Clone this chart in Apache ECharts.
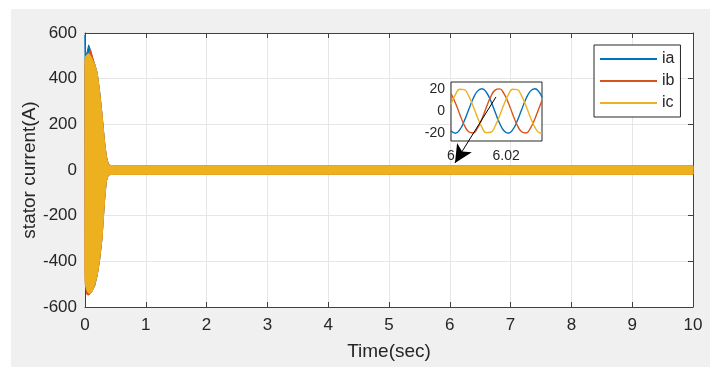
<!DOCTYPE html>
<html>
<head>
<meta charset="utf-8">
<script src="https://cdn.jsdelivr.net/npm/echarts@6/dist/echarts.min.js"></script>
<style>
html,body{margin:0;padding:0;background:#ffffff;}
#bg{position:absolute;left:11px;top:9px;width:699px;height:358px;background:#F0F0F0;}
#chart{position:absolute;left:0;top:0;width:710px;height:367px;}
</style>
</head>
<body>
<div id="bg"></div>
<div id="chart"></div>
<script>
// ---- main plot: envelope of the dense oscillation (time in s, current in A)
const envT    = [0, 0.006, 0.03, 0.06, 0.09, 0.12, 0.16, 0.2, 0.24, 0.28, 0.32, 0.35, 0.38, 0.41, 0.5, 10];
const iaUpper = [592, 515, 510, 548, 525, 492, 464, 426, 346, 243, 127, 62, 30, 20, 19, 19];
const iaLower = [210, -485, -520, -535, -532, -526, -508, -462, -395, -300, -140, -50, -25, -20, -19, -19];
const ibUpper = [440, 490, 500, 505, 528, 500, 460, 424, 343, 242, 126, 61, 29, 20, 19, 19];
const ibLower = [-440, -505, -545, -548, -540, -530, -500, -462, -394, -298, -138, -49, -24, -20, -19, -19];
const icUpper = [480, 495, 505, 510, 500, 485, 462, 425, 342, 240, 125, 60, 28, 20, 19, 19];
const icLower = [-480, -500, -525, -540, -538, -530, -502, -460, -392, -298, -138, -48, -24, -20, -19, -19];

// ---- inset (zoom around t = 6 s)
const insetT  = [6.0000, 6.0016, 6.0032, 6.0048, 6.0064, 6.0080, 6.0096, 6.0112, 6.0128, 6.0144, 6.0160,
                 6.0176, 6.0192, 6.0208, 6.0224, 6.0240, 6.0256, 6.0272, 6.0288, 6.0304, 6.0320, 6.0330];
const insetIa = [-17.8, -20, -16.8, -9.1, 1.0, 10.9, 17.8, 20, 16.8, 9.1, -1.0,
                 -10.9, -17.8, -20, -16.8, -9.1, 1.0, 10.9, 17.8, 20, 16.8, 12.3];
const insetIb = [15.5, 7.2, -3.1, -12.6, -18.7, -19.8, -15.5, -7.2, 3.1, 12.6, 18.7,
                 19.8, 15.5, 7.2, -3.1, -12.6, -18.7, -19.8, -15.5, -7.2, 3.1, 9.4];
const insetIc = [5.8, 14.6, 19.5, 19.1, 13.6, 4.5, -5.8, -14.6, -19.5, -19.1, -13.6,
                 -4.5, 5.8, 14.6, 19.5, 19.1, 13.6, 4.5, -5.8, -14.6, -19.5, -19.9];
const insetXTicks = [6, 6.02];
const insetYTicks = [-20, 0, 20];

// ---- annotation arrow (main-axis coordinates)
const arrowFrom = [6.76, 320];
const arrowTo   = [6.085, 31];

const seriesNames = ['ia', 'ib', 'ic'];
const colors = ['#0072BD', '#D95319', '#EDB120'];
const FONT = "'Liberation Sans', Arial, Helvetica, sans-serif";
const TXT = '#262626';
const AX = '#404040';

function band(name, color, up, lo) {
  return {
    type: 'custom', name: name, xAxisIndex: 0, yAxisIndex: 0, z: 2,
    color: color, itemStyle: { color: color },
    data: [[0, 0]], encode: { x: 0, y: 1 }, silent: true,
    renderItem: function (params, api) {
      const pts = [];
      for (let i = 0; i < envT.length; i++) pts.push(api.coord([envT[i], up[i]]));
      for (let i = envT.length - 1; i >= 0; i--) pts.push(api.coord([envT[i], lo[i]]));
      return { type: 'polygon', shape: { points: pts }, style: { fill: color, stroke: color, lineWidth: 1 } };
    }
  };
}
function insetLine(name, color, vals) {
  return {
    type: 'line', name: name, xAxisIndex: 2, yAxisIndex: 2, z: 3,
    data: insetT.map((t, i) => [t, vals[i]]), smooth: true, showSymbol: false, symbol: 'none',
    color: color, lineStyle: { color: color, width: 1.4 }, silent: true
  };
}

const chart = echarts.init(document.getElementById('chart'), null, { renderer: 'canvas' });
chart.setOption({
  animation: false,
  textStyle: { fontFamily: FONT },
  grid: [
    { left: 85, top: 33, width: 608, height: 274, show: true, backgroundColor: '#ffffff', borderWidth: 0, z: 0 },
    { left: 451, top: 82, width: 91, height: 59, show: true, backgroundColor: '#ffffff', borderColor: '#262626', borderWidth: 1, z: 1 }
  ],
  legend: {
    data: seriesNames, orient: 'vertical', left: 594, top: 45,
    padding: [6, 6, 6, 6], itemGap: 6, itemWidth: 57, itemHeight: 2, icon: 'rect',
    backgroundColor: '#ffffff', borderColor: '#262626', borderWidth: 1, borderRadius: 0,
    textStyle: { fontFamily: FONT, fontSize: 16, color: TXT }, selectedMode: false
  },
  xAxis: [
    { type: 'value', gridIndex: 0, min: 0, max: 10, interval: 1, position: 'bottom',
      name: 'Time(sec)', nameLocation: 'middle', nameGap: 35, nameMoveOverlap: false,
      nameTextStyle: { fontFamily: FONT, fontSize: 19, color: TXT },
      axisLine: { show: true, onZero: false, lineStyle: { color: AX, width: 1 } },
      axisTick: { show: true, inside: true, length: 5, lineStyle: { color: AX } },
      axisLabel: { fontFamily: FONT, fontSize: 17, color: TXT, margin: 10 },
      splitLine: { show: true, lineStyle: { color: '#e6e6e6', width: 1 } } },
    { type: 'value', gridIndex: 0, min: 0, max: 10, interval: 1, position: 'top',
      axisLine: { show: true, onZero: false, lineStyle: { color: AX, width: 1 } },
      axisTick: { show: true, inside: true, length: 5, lineStyle: { color: AX } },
      axisLabel: { show: false }, splitLine: { show: false } },
    { type: 'value', gridIndex: 1, min: 6, max: 6.033, position: 'bottom', z: 1,
      axisLine: { show: false }, axisTick: { show: false }, splitLine: { show: false },
      axisLabel: { fontFamily: FONT, fontSize: 14, color: TXT, margin: 8, customValues: insetXTicks,
        formatter: v => String(Math.round(v * 100) / 100) } }
  ],
  yAxis: [
    { type: 'value', gridIndex: 0, min: -600, max: 600, interval: 200, position: 'left',
      name: 'stator current(A)', nameLocation: 'middle', nameGap: 46, nameMoveOverlap: false,
      nameTextStyle: { fontFamily: FONT, fontSize: 19, color: TXT },
      axisLine: { show: true, onZero: false, lineStyle: { color: AX, width: 1 } },
      axisTick: { show: true, inside: true, length: 5, lineStyle: { color: AX } },
      axisLabel: { fontFamily: FONT, fontSize: 17, color: TXT, margin: 8 },
      splitLine: { show: true, lineStyle: { color: '#e6e6e6', width: 1 } } },
    { type: 'value', gridIndex: 0, min: -600, max: 600, interval: 200, position: 'right',
      axisLine: { show: true, onZero: false, lineStyle: { color: AX, width: 1 } },
      axisTick: { show: true, inside: true, length: 5, lineStyle: { color: AX } },
      axisLabel: { show: false }, splitLine: { show: false } },
    { type: 'value', gridIndex: 1, min: -27, max: 26, position: 'left', z: 1,
      axisLine: { show: false }, axisTick: { show: false }, splitLine: { show: false },
      axisLabel: { fontFamily: FONT, fontSize: 14, color: TXT, margin: 6, customValues: insetYTicks } }
  ],
  series: [
    band('ia', colors[0], iaUpper, iaLower),
    band('ib', colors[1], ibUpper, ibLower),
    band('ic', colors[2], icUpper, icLower),
    insetLine('ia', colors[0], insetIa),
    insetLine('ib', colors[1], insetIb),
    insetLine('ic', colors[2], insetIc),
    { type: 'line', name: 'arrow', xAxisIndex: 0, yAxisIndex: 0, data: [arrowFrom, arrowTo],
      showSymbol: false, symbol: 'none', lineStyle: { opacity: 0 }, silent: true, z: 6,
      markLine: { silent: true, animation: false, symbol: ['none', 'arrow'], symbolSize: [13, 18],
        label: { show: false }, lineStyle: { color: '#000000', width: 1, type: 'solid' },
        data: [[{ coord: arrowFrom }, { coord: arrowTo }]] } }
  ]
});
</script>
</body>
</html>
